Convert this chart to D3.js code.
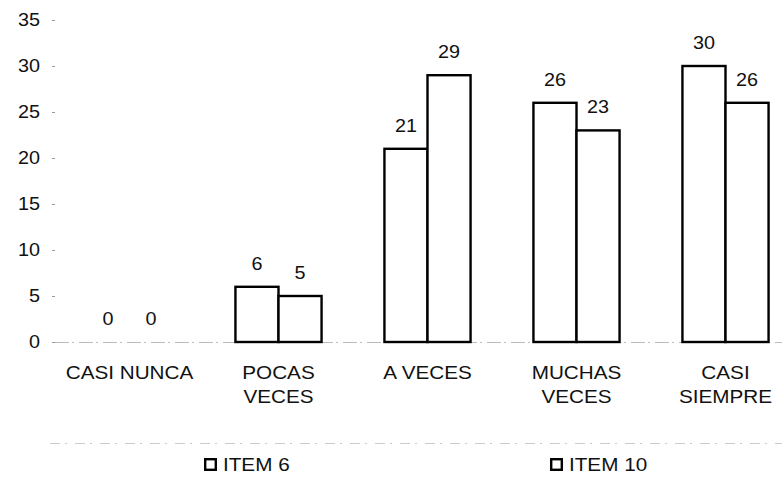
<!DOCTYPE html>
<html>
<head>
<meta charset="utf-8">
<script src="https://cdn.jsdelivr.net/npm/d3@7"></script>
<style>
  html, body { margin: 0; padding: 0; background: #fff; }
  svg { display: block; font-family: "Liberation Sans", Arial, sans-serif; }
</style>
</head>
<body>
<svg id="chart" width="782" height="477"></svg>
<script>
// Response categories (two-line labels split with "\n")
const categories = ["CASI NUNCA", "POCAS\nVECES", "A VECES", "MUCHAS\nVECES", "CASI\nSIEMPRE"];
const seriesNames = ["ITEM 6", "ITEM 10"];
const item6 = [0, 6, 21, 26, 30];
const item10 = [0, 5, 29, 23, 26];
const yTicks = [0, 5, 10, 15, 20, 25, 30, 35];

const svg = d3.select("#chart");
const margin = { left: 55, top: 20, bottom: 135 };
const plotRight = 800;
const y0 = 477 - margin.bottom;
const FONT = 18;
const SX_NUM = 1.1;   // slightly widened glyphs
const SX_WORD = 1.15;

const x = d3.scaleBand().domain(categories).range([margin.left, plotRight]).paddingInner(0).paddingOuter(0);
const xs = d3.scaleBand().domain(seriesNames).range([0, x.bandwidth()]).paddingInner(0).paddingOuter(0.73);
const y = d3.scaleLinear().domain([0, 35]).range([y0, margin.top]);

function placeText(sel, px, py, sx) {
  return sel.attr("transform", `translate(${px},${py}) scale(${sx},1)`);
}

// Baseline (faint dashed)
svg.append("line")
  .attr("x1", margin.left).attr("x2", 782)
  .attr("y1", y(0) + 0.5).attr("y2", y(0) + 0.5)
  .attr("stroke", "#bbb").attr("stroke-width", 1)
  .attr("stroke-dasharray", "14,3,2,5");

// Y axis: faint tick marks and labels
const yAxis = svg.append("g").attr("transform", `translate(${margin.left},0)`);
yAxis.selectAll("line.tick").data(yTicks).join("line")
  .attr("class", "tick")
  .attr("x1", -3).attr("x2", 0)
  .attr("y1", d => y(d) + 0.5).attr("y2", d => y(d) + 0.5)
  .attr("stroke", "#999").attr("stroke-width", 1);
yAxis.selectAll("text").data(yTicks).join("text")
  .each(function(d) { placeText(d3.select(this), -15, y(d), SX_NUM); })
  .attr("dy", "0.36em")
  .attr("text-anchor", "end")
  .attr("font-size", FONT)
  .attr("fill", "#111")
  .text(d => d);

// Bars with value labels
const series = [item6, item10];
const groups = svg.append("g").selectAll("g").data(categories).join("g")
  .attr("transform", d => `translate(${x(d)},0)`);

groups.each(function(cat, i) {
  const g = d3.select(this);
  seriesNames.forEach((name, s) => {
    const v = series[s][i];
    if (v > 0) {
      g.append("rect")
        .attr("x", xs(name))
        .attr("y", y(v))
        .attr("width", xs.bandwidth())
        .attr("height", y(0) - y(v))
        .attr("fill", "#fff")
        .attr("stroke", "#000")
        .attr("stroke-width", 2.4);
    }
    placeText(g.append("text"), xs(name) + xs.bandwidth() / 2, y(v) - 17, SX_NUM)
      .attr("text-anchor", "middle")
      .attr("font-size", FONT)
      .attr("fill", "#111")
      .text(v);
  });
});

// Category labels
svg.append("g").selectAll("g").data(categories).join("g")
  .each(function(d) {
    const lines = d.split("\n");
    d3.select(this).selectAll("text").data(lines).join("text")
      .each(function(l, k) {
        placeText(d3.select(this), x(d) + x.bandwidth() / 2, y0 + 37 + k * 24, SX_WORD);
      })
      .attr("text-anchor", "middle")
      .attr("font-size", FONT)
      .attr("fill", "#111")
      .text(l => l);
  });

// Legend separator (faint dotted)
svg.append("line")
  .attr("x1", 50).attr("x2", 782)
  .attr("y1", 443.5).attr("y2", 443.5)
  .attr("stroke", "#ccc").attr("stroke-width", 1)
  .attr("stroke-dasharray", "10,5,2,8");

// Legend
const legendX = [204, 550];
const legend = svg.append("g").selectAll("g").data(seriesNames).join("g")
  .attr("transform", (d, i) => `translate(${legendX[i]},458)`);
legend.append("rect")
  .attr("x", 1.2).attr("y", 1.2).attr("width", 10.6).attr("height", 10.6)
  .attr("fill", "#fff").attr("stroke", "#000").attr("stroke-width", 2.4);
legend.append("text")
  .each(function() { placeText(d3.select(this), 19, 13, SX_WORD); })
  .attr("font-size", FONT)
  .attr("fill", "#111")
  .text(d => d);
</script>
</body>
</html>
